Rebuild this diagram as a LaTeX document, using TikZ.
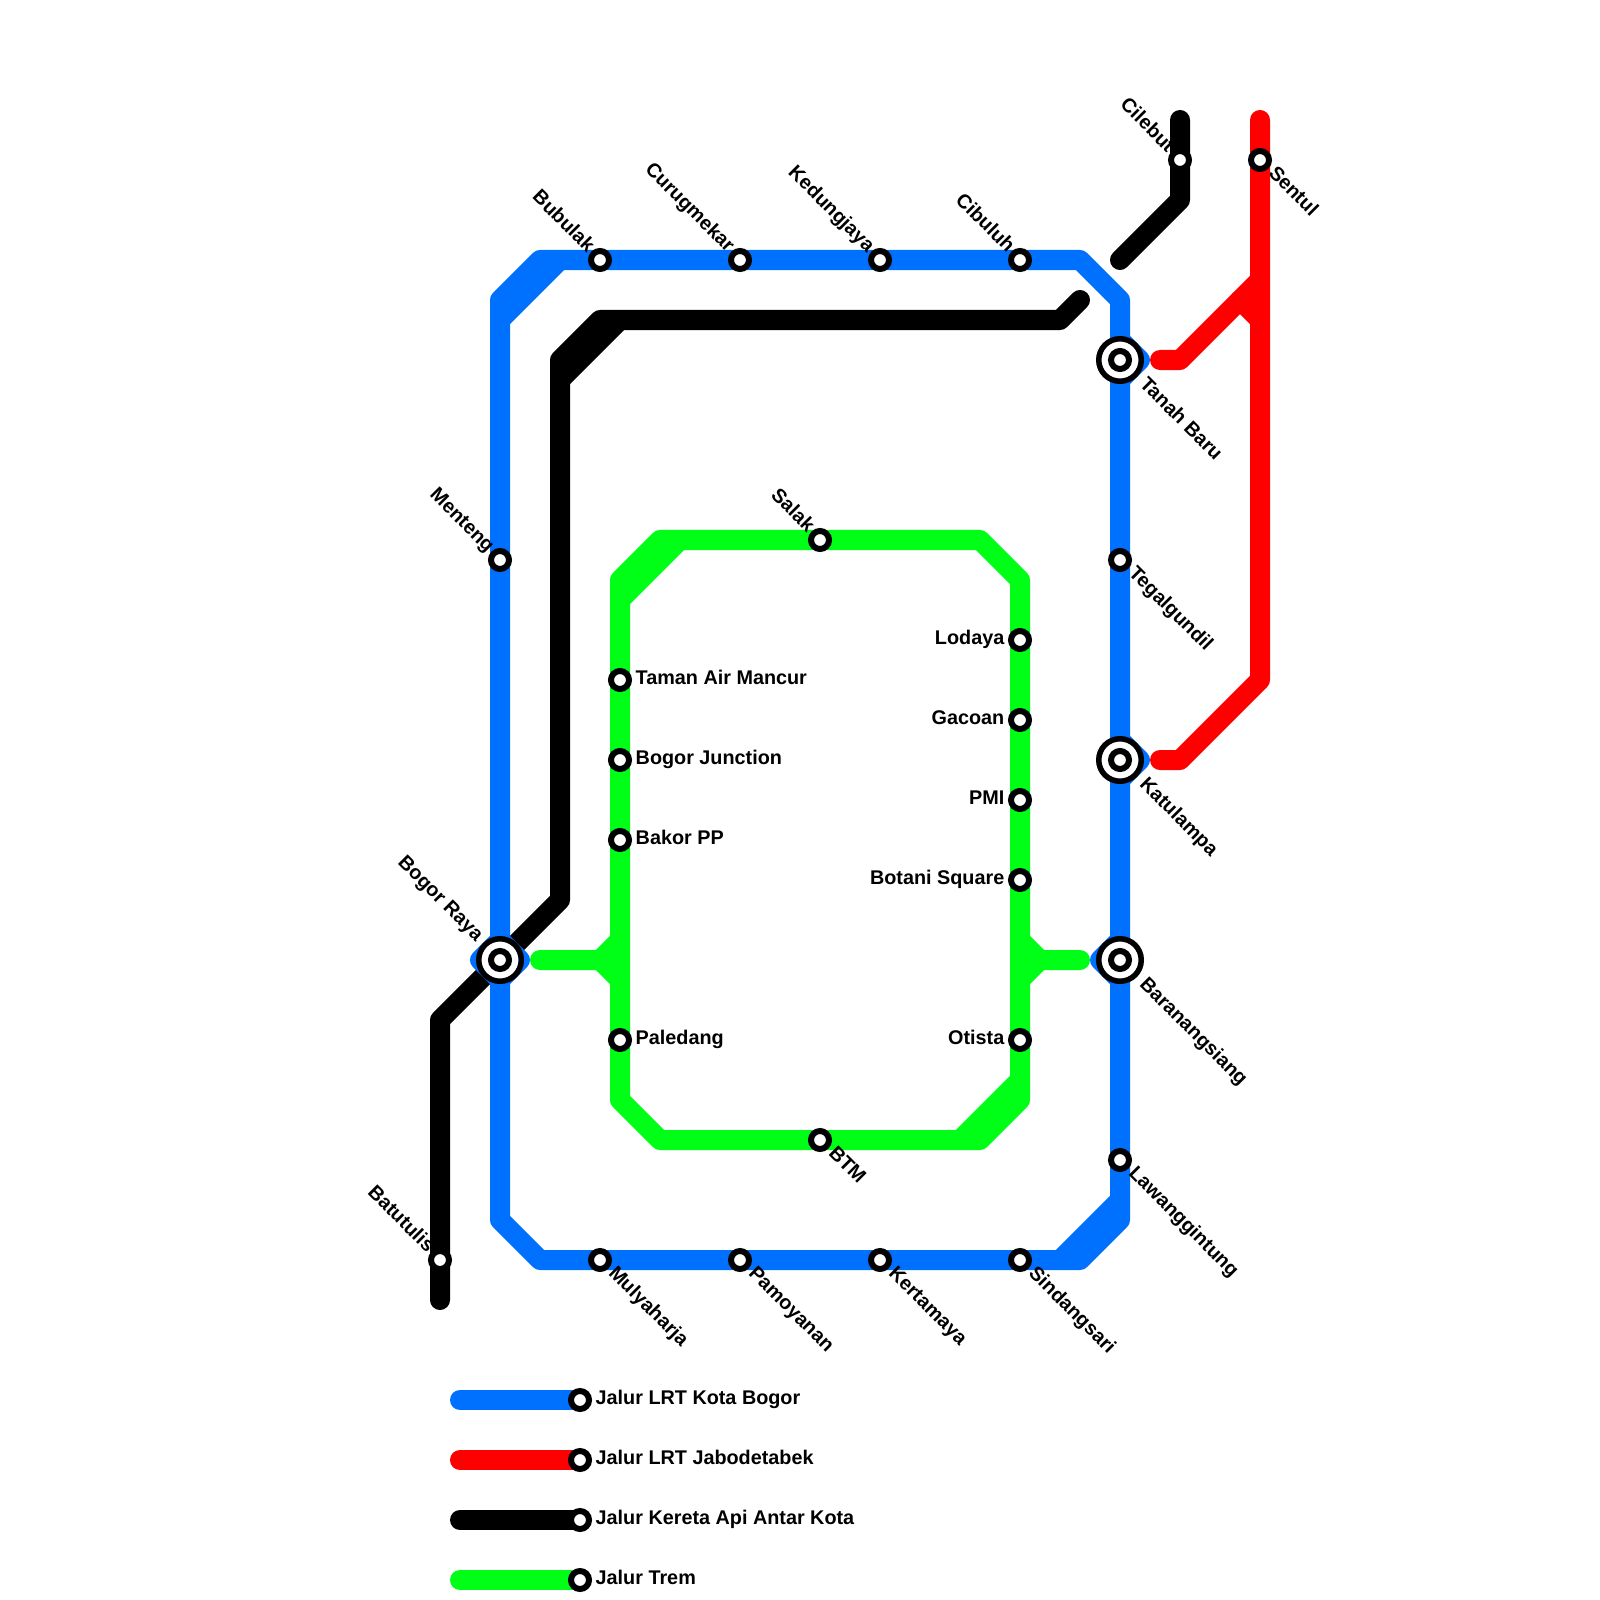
\documentclass[tikz,border=0pt]{standalone}
\usepackage{fontspec}
\setmainfont{Liberation Sans}[BoldFont={Liberation Sans Bold}]
\usetikzlibrary{backgrounds}
\definecolor{lrtblue}{RGB}{0,112,255}
\definecolor{lrtred}{RGB}{255,0,0}
\definecolor{tramgreen}{RGB}{0,255,22}
\tikzset{
  x=0.01cm,y=-0.01cm,
  every node/.style={font=\fontsize{5.63}{6.8}\selectfont\bfseries},
  stn/.style={circle,draw=black,fill=white,line width=0.06cm,minimum size=0.18cm,inner sep=0pt,outer sep=0pt},
  hub/.style={circle,draw=black,fill=white,line width=0.055cm,minimum size=0.425cm,inner sep=0pt,outer sep=0pt},
  route/.style={line width=0.2cm,line cap=round,line join=round},
  blueroute/.style={route,draw=lrtblue},
  redroute/.style={route,draw=lrtred},
  blackroute/.style={route,draw=black},
  greenroute/.style={route,draw=tramgreen},
  lbl/.style={inner sep=0pt,text height=0.145cm,text depth=0.04cm},
  lblE/.style={lbl,anchor=east},
  lblW/.style={lbl,anchor=west},
  lblNW/.style={lbl,anchor=east,rotate=-45},
  lblSE/.style={lbl,anchor=west,rotate=-45},
}
\begin{document}
\begin{tikzpicture}
\useasboundingbox (0,0) rectangle (1600,1600);
% stations
\foreach \n/\x/\y in {
 bubulak/600/260,curug/740/260,kedung/880/260,cibuluh/1020/260,
 cilebut/1180/160,sentul/1260/160,tegal/1120/560,lawang/1120/1160,
 sindang/1020/1260,kerta/880/1260,pamoy/740/1260,mulya/600/1260,
 menteng/500/560,batu/440/1260,salak/820/540,btm/820/1140,
 taman/620/680,junction/620/760,bakor/620/840,paledang/620/1040,
 lodaya/1020/640,gacoan/1020/720,pmi/1020/800,botani/1020/880,otista/1020/1040,
 legA/580/1400,legB/580/1460,legC/580/1520,legD/580/1580}
 {\node[stn] (\n) at (\x,\y) {};}
\foreach \n/\x/\y in {bogor/500/960,tanah/1120/360,katu/1120/760,baran/1120/960}
 {\node[hub] (\n) at (\x,\y) {}; \node[stn] (\n-in) at (\x,\y) {};}
% labels
\node[lblNW] (tBubulak) at ([shift={(-9,-10)}]bubulak.center) {Bubulak};
\node[lblNW] (tCurug) at ([shift={(-9,-10)}]curug.center) {Curugmekar};
\node[lblNW] (tKedung) at ([shift={(-9,-10)}]kedung.center) {Kedungjaya};
\node[lblNW] (tCibuluh) at ([shift={(-9,-10)}]cibuluh.center) {Cibuluh};
\node[lblNW] (tCilebut) at ([shift={(-9,-10)}]cilebut.center) {Cilebut};
\node[lblNW] (tMenteng) at ([shift={(-9,-10)}]menteng.center) {Menteng};
\node[lblNW] (tBogor) at ([shift={(-20,-21)}]bogor.center) {Bogor Raya};
\node[lblNW] (tBatu) at ([shift={(-9,-10)}]batu.center) {Batutulis};
\node[lblNW] (tSalak) at ([shift={(-9,-10)}]salak.center) {Salak};
\node[lblSE] (tSentul) at ([shift={(11,10)}]sentul.center) {Sentul};
\node[lblSE] (tTanah) at ([shift={(22,21)}]tanah.center) {Tanah Baru};
\node[lblSE] (tTegal) at ([shift={(11,10)}]tegal.center) {Tegalgundil};
\node[lblSE] (tKatu) at ([shift={(22,21)}]katu.center) {Katulampa};
\node[lblSE] (tBaran) at ([shift={(22,21)}]baran.center) {Baranangsiang};
\node[lblSE] (tLawang) at ([shift={(11,10)}]lawang.center) {Lawanggintung};
\node[lblSE] (tSindang) at ([shift={(11,10)}]sindang.center) {Sindangsari};
\node[lblSE] (tKerta) at ([shift={(11,10)}]kerta.center) {Kertamaya};
\node[lblSE] (tPamoy) at ([shift={(11,10)}]pamoy.center) {Pamoyanan};
\node[lblSE] (tMulya) at ([shift={(11,10)}]mulya.center) {Mulyaharja};
\node[lblSE] (tBtm) at ([shift={(11,10)}]btm.center) {BTM};
\node[lblW] (tTaman) at ([shift={(15,-0.7)}]taman.center) {Taman Air Mancur};
\node[lblW] (tJunction) at ([shift={(15,-0.7)}]junction.center) {Bogor Junction};
\node[lblW] (tBakor) at ([shift={(15,-0.7)}]bakor.center) {Bakor PP};
\node[lblW] (tPaledang) at ([shift={(15,-0.7)}]paledang.center) {Paledang};
\node[lblE] (tLodaya) at ([shift={(-15,-0.7)}]lodaya.center) {Lodaya};
\node[lblE] (tGacoan) at ([shift={(-15,-0.7)}]gacoan.center) {Gacoan};
\node[lblE] (tPmi) at ([shift={(-15,-0.7)}]pmi.center) {PMI};
\node[lblE] (tBotani) at ([shift={(-15,-0.7)}]botani.center) {Botani Square};
\node[lblE] (tOtista) at ([shift={(-15,-0.7)}]otista.center) {Otista};
\node[lblW] (tLegA) at ([shift={(15,-0.7)}]legA.center) {Jalur LRT Kota Bogor};
\node[lblW] (tLegB) at ([shift={(15,-0.7)}]legB.center) {Jalur LRT Jabodetabek};
\node[lblW] (tLegC) at ([shift={(15,-0.7)}]legC.center) {Jalur Kereta Api Antar Kota};
\node[lblW] (tLegD) at ([shift={(15,-0.7)}]legD.center) {Jalur Trem};
% waypoints
\foreach \n/\x/\y in {
 % blue
 bA/540/260,bB/1080/260,bC/1120/300,bD/1120/1220,bE/1080/1260,bF/540/1260,bG/500/1220,bH/500/300,
 bI/500/320,bJ/560/260,bK/1060/1260,bL/1120/1200,
 bM/480/960,bN/500/940,bO/500/980,bP/520/960,
 bQ/1120/340,bR/1140/360,bS/1120/380,bT/1120/740,bU/1140/760,bV/1120/780,
 bW/1120/940,bX/1100/960,bY/1120/980,
 % black
 kA/1080/300,kB/1060/320,kC/600/320,kD/620/320,kE/560/360,kF/560/380,kG/560/900,kH/440/1020,kI/440/1300,
 kJ/1120/260,kK/1180/200,kL/1180/120,
 % red
 rA/1260/120,rB/1260/680,rC/1180/760,rD/1160/760,rE/1160/360,rF/1180/360,rG/1260/280,rH/1240/300,rI/1260/320,
 % green
 gA/660/540,gB/980/540,gC/1020/580,gD/1020/1100,gE/980/1140,gF/660/1140,gG/620/1100,gH/620/580,
 gI/620/600,gJ/680/540,gK/960/1140,gL/1020/1080,
 gM/540/960,gN/600/960,gO/620/940,gP/620/980,
 gQ/1080/960,gR/1040/960,gS/1020/940,gT/1020/980,
 % legend
 lA/460/1400,lB/460/1460,lC/460/1520,lD/460/1580}
 {\coordinate (\n) at (\x,\y);}
\begin{scope}[on background layer]
\fill[white] (0,0) rectangle (1600,1600);
% black
\draw[blackroute] (kA) -- (kB) -- (kC) -- (kE) -- (kG) -- (kH) -- (kI);
\draw[blackroute] (kD) -- (kF);
\draw[blackroute] (kJ) -- (kK) -- (kL);
\draw[blackroute] (lC) -- (legC.center);
% blue
\draw[blueroute] (bA) -- (bB) -- (bC) -- (bD) -- (bE) -- (bF) -- (bG) -- (bH) -- cycle;
\draw[blueroute] (bI) -- (bJ);
\draw[blueroute] (bK) -- (bL);
\draw[blueroute] (bN) -- (bM) -- (bO);
\draw[blueroute] (bN) -- (bP) -- (bO);
\draw[blueroute] (bQ) -- (bR) -- (bS);
\draw[blueroute] (bT) -- (bU) -- (bV);
\draw[blueroute] (bW) -- (bX) -- (bY);
\draw[blueroute] (lA) -- (legA.center);
% red
\draw[redroute] (rA) -- (rB) -- (rC) -- (rD);
\draw[redroute] (rE) -- (rF) -- (rG);
\draw[redroute] (rH) -- (rI);
\draw[redroute] (lB) -- (legB.center);
% green
\draw[greenroute] (gA) -- (gB) -- (gC) -- (gD) -- (gE) -- (gF) -- (gG) -- (gH) -- cycle;
\draw[greenroute] (gI) -- (gJ);
\draw[greenroute] (gK) -- (gL);
\draw[greenroute] (gM) -- (gN) -- (gO);
\draw[greenroute] (gN) -- (gP);
\draw[greenroute] (gQ) -- (gR) -- (gS);
\draw[greenroute] (gR) -- (gT);
\draw[greenroute] (lD) -- (legD.center);
\end{scope}
\end{tikzpicture}
\end{document}
